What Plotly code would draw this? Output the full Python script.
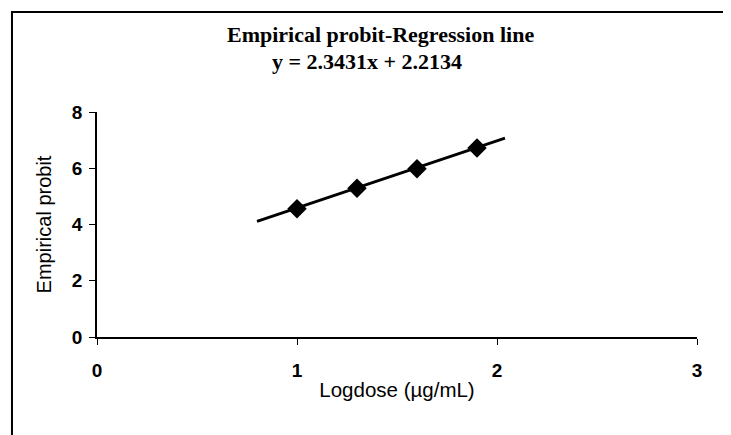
import plotly.graph_objects as go

# observed points
logdose = [1.0, 1.3, 1.6, 1.9]
probit = [4.56, 5.29, 5.98, 6.72]

# regression line ends
line_x = [0.8, 2.04]
line_y = [4.11, 7.07]

title_txt = "Empirical probit-Regression line"
eq_txt = "y = 2.3431x + 2.2134"

fig = go.Figure()

fig.add_trace(go.Scatter(x=line_x, y=line_y, mode='lines',
                         line=dict(color='black', width=2.8), showlegend=False))
fig.add_trace(go.Scatter(x=logdose, y=probit, mode='markers',
                         marker=dict(symbol='diamond', size=15, color='black'),
                         showlegend=False))

fig.update_xaxes(range=[0, 3], tickvals=[0, 1, 2, 3], showgrid=False, zeroline=False,
                 showline=True, linecolor='black', linewidth=1.5, automargin=False,
                 ticks='outside', ticklen=6, tickcolor='black', ticklabelstandoff=9,
                 tickfont=dict(family='Arial, Liberation Sans', size=19, color='black', weight='bold'),
                 title=dict(text='Logdose (µg/mL)', standoff=3,
                            font=dict(family='Arial, Liberation Sans', size=20.5, color='black')))
fig.update_yaxes(range=[0, 8], tickvals=[0, 2, 4, 6, 8], showgrid=False, zeroline=False,
                 showline=True, linecolor='black', linewidth=1.5, automargin=False,
                 ticks='outside', ticklen=6, tickcolor='black', ticklabelstandoff=3,
                 tickfont=dict(family='Arial, Liberation Sans', size=19, color='black', weight='bold'),
                 title=dict(text='Empirical probit', standoff=15,
                            font=dict(family='Arial, Liberation Sans', size=20, color='black')))

tfont = dict(family='Times New Roman, Liberation Serif', size=22, color='black', weight='bold')
# title block: two lines stacked
fig.add_annotation(text=title_txt, xref='paper', yref='paper', x=0.472, y=1.284,
                   showarrow=False, font=tfont, xanchor='center', yanchor='bottom', borderpad=0)
fig.add_annotation(text=eq_txt, xref='paper', yref='paper', x=0.45, y=1.284,
                   showarrow=False, font=tfont, xanchor='center', yanchor='top', borderpad=0)

# outer frame (runs off the right and bottom edges)
fig.add_shape(type='rect', xref='paper', yref='paper', x0=-0.1417, y0=-0.5, x1=1.1, y1=1.444,
              line=dict(color='black', width=2), fillcolor='rgba(0,0,0,0)')

# page body adds 8px, so the figure is 8px smaller than the window
fig.update_layout(width=723, height=427, margin=dict(l=89, r=34, t=104, b=98),
                  paper_bgcolor='white', plot_bgcolor='white')

fig.write_html("out.html")
